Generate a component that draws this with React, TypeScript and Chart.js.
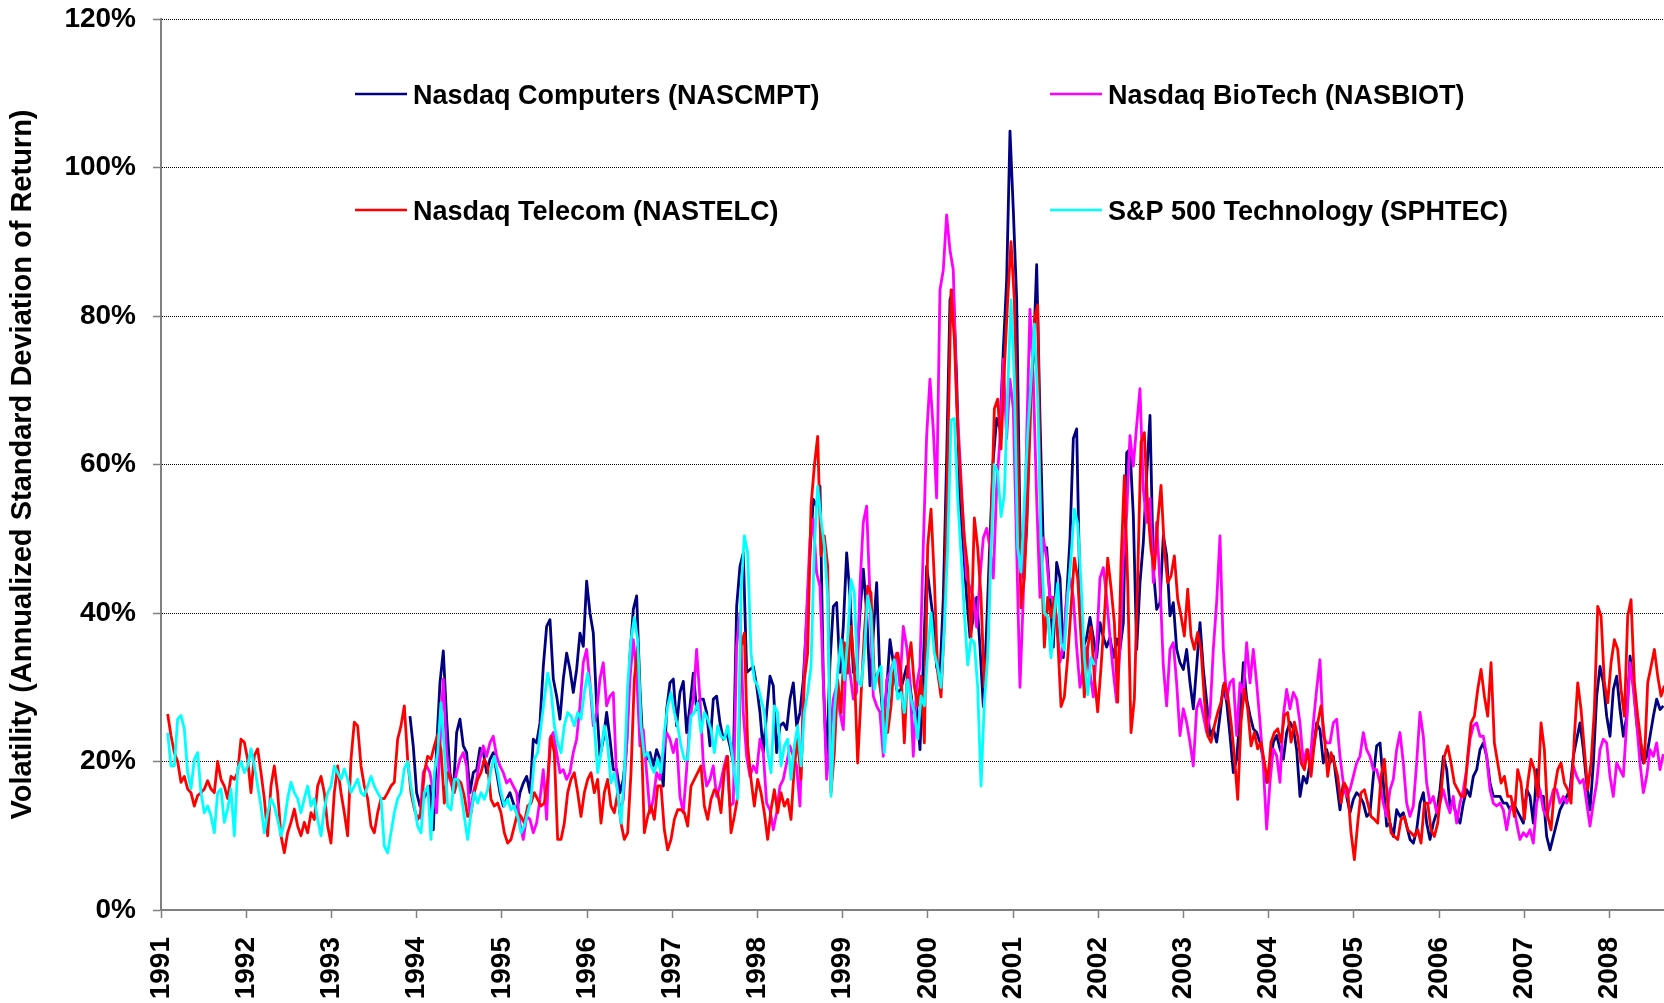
import React, { useEffect, useRef } from 'react';
import { Chart, registerables } from 'chart.js';

Chart.register(...registerables);

// ---------------- data ----------------
const SERIES_NAMES = [
  'Nasdaq Computers (NASCMPT)',
  'Nasdaq BioTech (NASBIOT)',
  'Nasdaq Telecom (NASTELC)',
  'S&P 500 Technology (SPHTEC)',
];
const SERIES_COLORS = ['#000080', '#FF00FF', '#FF0000', '#00FFFF'];

const YEAR_TICKS = [1991, 1992, 1993, 1994, 1995, 1996, 1997, 1998, 1999, 2000, 2001, 2002, 2003, 2004, 2005, 2006, 2007, 2008];
const PCT_TICKS = [0, 20, 40, 60, 80, 100, 120];

// sampling interval of the readings (about two weeks), in years
const STEP = 1 / 25.56;
const NASCMPT_START = 1993.922;
const NASBIOT_START = 1994.039;
const NASTELC_START = 1991.078;
const SPHTEC_START = 1991.078;

// volatility in percent
const nascmpt = [
  26.1, 22, 15.8, 14, 14.9, 15.8, 16.7, 10.8, 22, 30.6,
  34.9, 25.7, 18.5, 15.8, 23.9, 25.7, 22.1, 21.2, 15.8, 18.5,
  18.9, 21.8, 21.2, 18.5, 20.3, 21.2, 18.5, 15.8, 14, 14.9,
  15.8, 14.4, 13.1, 15.8, 17.1, 18, 15.8, 23, 22.5, 25.2,
  32.8, 38.2, 39.1, 31.1, 28.8, 25.7, 31.1, 34.6, 32.4, 29.3,
  32.4, 37.3, 35.5, 44.3, 40, 37.3, 27.5, 20.7, 23, 26.6,
  23, 18.9, 18.9, 15.8, 17.6, 22.1, 34.2, 40.5, 42.3, 29.7,
  21.2, 20.3, 21.2, 19.4, 21.6, 20.3, 16.7, 27, 30.6, 31.1,
  24.8,
  29.3, 30.8, 23.9, 27.5, 31.9, 27, 28.4, 28.4, 26.6, 22.1,
  28.4, 28.8, 25.2, 23, 23.9, 22.1, 19.8, 40.9, 46.3, 48.1,
  32, 32.4, 32.8, 30.2, 26.6, 21.2, 26.6, 31.5, 30.2, 21.2,
  24.8, 25.2, 24.3, 28.4, 30.6, 24.8, 26.6, 31, 39.1, 48.1,
  55.3, 54.4, 57.1, 31, 19.8, 33.3, 40.9, 41.4, 32, 38.2,
  48.1, 42.3, 32, 32.8, 40, 45.9, 40, 30.2, 37.3, 44.1,
  31, 25.2, 29.7, 36.4, 33.3, 29.7, 29.3, 31, 32.8, 30.2,
  26.6, 27.5, 21.6, 33.3, 46.3, 42.7, 39.1,
  32.7, 31.4, 42.1, 60.8, 82.2, 83.5, 71.5, 54.1, 48.8, 42.1,
  36.7, 39.4, 42.1, 35.4, 27.4, 38.1, 50.1, 60.8, 66.2, 64.8,
  75.5, 84.9, 104.9, 94.2, 82.2, 51.4, 44.7, 51.4, 68.8, 74.2,
  86.9, 66.2, 48.8, 48.8, 42.1, 35.4, 46.8, 44.7, 34, 42.1,
  50.1, 63.5, 64.8, 42.1, 35.4, 36.7, 39.4, 36.7, 34, 38.7,
  36.7, 35.4, 36.7, 34,
  36.5, 35.1, 38.7, 61.6, 62.1, 53.1, 35.1, 44.1, 49.5, 58.5,
  66.6, 45.9, 40.5, 41.4, 50.4, 47.7, 39.6, 41.4, 35.1, 33.3,
  32.4, 35.1, 30.6, 27.1, 32.9, 38.7, 32.4, 28, 23.5, 24.4,
  22.6, 26.2, 30.2, 28, 23.5, 18.5, 20.3, 26.2, 33.3, 28.4,
  26.2, 24.4, 23.9, 22.6, 20.3, 17.2, 19.4, 22.6, 23.5, 21.7,
  20.3, 23.9, 25.3, 24.4,
  21.6, 15.3, 18, 17.1, 19.8, 21.6, 25.2, 24.3, 19.8, 21.6,
  19.8, 20.7, 17.1, 13.5, 17.1, 15.3, 13.1, 14.9, 15.8, 15.3,
  14.4, 12.6, 13.1, 18, 22.1, 22.5, 17.1, 11.3, 11.7, 9.9,
  13.5, 12.6, 13.1, 11.3, 9.5, 9, 10.8, 14.4, 15.8, 11.7,
  9.5, 11.7, 13.1, 16.2, 20.7, 18.9, 14, 14.4, 12.6, 11.7,
  14.4, 16.2, 15.3, 18, 18.9, 21.6, 22.5, 20.7, 17.1, 15.3,
  15.3,
  15.3, 14.4, 14.4, 13.5, 14.4, 13.5, 12.6, 11.7, 16.2, 15.3,
  11.7, 18.9, 15.3, 15.3, 9.9, 8.1, 9.9, 11.7, 13.5, 14.4,
  15.3, 16.2, 20.7, 23, 25.2, 21.6, 17.1, 13.5, 19.8, 28.8,
  32.8, 30.6, 26.1, 23.4, 29.7, 31.5, 27, 23.4, 26.1, 34.2,
  30.6, 25.2, 21.6, 19.8, 20.7, 23.4, 26.1, 28.4, 27, 27.5,
];

const nasbiot = [
  12.2, 18.5, 19.4, 18.5, 15.8, 13.1, 22.1, 31.1, 21.2, 17.6,
  16.2, 18.5, 20.3, 21.2, 19.4, 12.6, 15.8, 17.6, 20.3, 22.1,
  20.7, 22.5, 23.4, 20.7, 19.4, 18.5, 17.1, 17.6, 16.7, 15.8,
  11.7, 9.5, 12.6, 12.2, 10.4, 11.7, 14.9, 18.9, 12.2, 23,
  23.9, 21.2, 18.5, 18.9, 17.6, 18.5, 21.2, 23, 27.5, 33.3,
  35.1, 30.6, 24.8, 26.6, 31.1, 33.3, 27.5, 28.8, 29.3, 17.6,
  13.1, 14.9, 22.1, 31.1, 36.4, 32, 22.1, 24.3, 18.5, 13.1,
  14.9, 18.5, 17.6, 21.2, 23.9, 23, 21.2, 23,
  15.3, 13.1, 18.9, 25.7, 28.4, 35.1, 28.4, 19.8, 16.7, 17.6,
  19.4, 15.3, 16.7, 18.9, 20.7, 14, 14.4, 35.5, 40, 26.6,
  20.7, 18, 19.4, 18.5, 23, 21.2, 14.4, 13.5, 10.8, 13.1,
  16.7, 17.6, 19.8, 22.1, 20.7, 19.4, 14, 28.8, 40, 49.9,
  52.6, 45.4, 43.6, 31, 17.6, 23, 28.4, 30.2, 26.6, 24.3,
  35.5, 32, 28.4, 29.3, 43.6, 52.2, 54.4, 42.3, 28.8, 27.5,
  26.6, 20.7, 31, 32, 33.3, 34.6, 30.2, 38.2, 35.5, 31,
  20.7, 30.2, 32.8, 49, 63.8, 71.5, 64.7,
  55.5, 83.5, 86.2, 93.6, 88.9, 86.2, 68.8, 60.8, 52.1, 44.7,
  43.4, 42.1, 38.1, 44.7, 50.1, 51.4, 48.8, 44.7, 56.8, 63.5,
  74.2, 63.5, 71.5, 67.5, 48.8, 30, 42.1, 63.5, 80.9, 71.5,
  55.5, 42.1, 50.1, 47.4, 42.1, 42.1, 39.4, 33.4, 35.4, 42.1,
  44.7, 42.1, 35.4, 30, 32.7, 35.4, 32, 28.7, 35.4, 44.7,
  46.1, 42.1, 36.7, 32,
  28, 35.1, 47.7, 53.1, 63.9, 59.8, 65.2, 70.2, 56.7, 52.2,
  55.4, 44.1, 52.2, 44.1, 32.9, 27.5, 35.1, 36, 30.6, 23.5,
  27.1, 25.3, 22.6, 19.4, 27.1, 28.4, 26.2, 23.9, 26.2, 35.1,
  41.4, 50.4, 35.1, 28.4, 30.6, 31.1, 23.5, 30.6, 28.9, 36,
  30.6, 35.1, 30.6, 25.3, 19.4, 10.9, 17.2, 21.7, 20.8, 17.2,
  26.2, 29.7, 27.1, 29.3,
  28.4, 25.2, 19.8, 21.6, 19.8, 25.2, 29.7, 33.7, 23.4, 22.5,
  22.5, 25.2, 25.7, 20.7, 17.1, 15.3, 16.2, 18, 19.8, 20.7,
  23.9, 21.6, 20.7, 18.9, 18.9, 17.1, 14.4, 12.6, 16.2, 17.6,
  21.6, 23.9, 19.8, 14.4, 12.6, 14, 19.8, 26.6, 23.4, 17.1,
  14.4, 15.3, 13.1, 14.4, 16.2, 14.4, 13.1, 15.3, 11.7, 14.4,
  16.2, 18.9, 23, 24.8, 25.2, 23.4, 23.4, 20.7, 16.2, 14.4,
  14,
  14.4, 13.5, 10.8, 13.5, 14.4, 11.7, 9.5, 10.4, 9.9, 10.8,
  9, 14.4, 16.2, 13.5, 12.6, 14.4, 16.2, 16.2, 14.4, 15.3,
  14.4, 15.3, 19.4, 18, 17.1, 17.6, 14.4, 11.3, 14.4, 17.1,
  21.6, 23, 22.5, 18, 15.3, 19.8, 18.9, 18, 25.2, 33.3,
  29.7, 25.2, 19.8, 15.8, 18, 21.6, 20.7, 22.5, 18.9, 21,
];

const nastelc = [
  26.4, 23.5, 21.2, 20, 17.2, 18, 16.3, 15.8, 14, 15.4,
  15.8, 16.3, 17.4, 16.3, 15.8, 20, 17.6, 16.7, 15, 18,
  17.6, 18.5, 23, 22.6, 20.3, 15.8, 20.8, 21.7, 18.5, 15,
  10, 16.7, 19.4, 15.8, 10, 7.7, 10.4, 11.8, 13.6, 11.3,
  10, 11.8, 10.4, 13.1, 12.2, 16.7, 18, 15.8, 11.3, 9,
  15.8, 19.4, 15.8, 13.1, 10, 20.3, 25.3, 24.8, 19.4, 16.7,
  15, 11.3, 10.4, 13.1, 15, 15, 15.8, 16.7, 17.2, 23,
  24.8, 27.5, 20.3, 15.8, 13.6, 12.2, 13.1,
  18.5, 20.7, 20.3, 22.1, 23.6, 21.6, 14.4, 18.5, 17.6, 15.8,
  17.6, 17.1, 15.3, 12.6, 13.1, 15.8, 17.6, 18.5, 20.3, 19.4,
  14.9, 14, 14.4, 13.1, 10.4, 9, 9.5, 11.3, 13.1, 12.6,
  11.7, 14, 14.4, 15.8, 14.9, 14, 14.4, 17.6, 23.4, 21.2,
  9.5, 9.5, 11.7, 15.8, 17.6, 18.5, 15.8, 12.6, 15.8, 17.6,
  18.5, 15.8, 17.6, 11.7, 15.8, 17.6, 14, 13.1, 15.8, 11.7,
  9.5, 10.4, 18.5, 31.1, 35.5, 25.2, 10.4, 12.6, 14, 12.2,
  16.7, 16.7, 10.8, 8.1, 9.5, 12.2, 13.5,
  13.5, 13.1, 11.3, 16.7, 17.6, 18.5, 19.4, 14, 12.2, 14.9,
  16.2, 15.8, 13.1, 18.9, 20.7, 10.4, 12.6, 15.3, 35.5, 37.3,
  22.1, 17.6, 14, 17.6, 15.8, 13.1, 9.5, 13.5, 16.2, 13.1,
  15.8, 14, 14.9, 12.2, 19.4, 23, 17.6, 31, 34.6, 54.4,
  59.8, 63.8, 47.7, 50.4, 46.3, 15.8, 21.2, 31, 26.6, 36,
  31.9, 38.2, 32.4, 19.8, 28.8, 37.3, 43.6, 42.7, 31, 31.9,
  29.3, 26.6, 23.9, 27.5, 33.7, 34.6, 31.9, 22.5, 32.8, 36,
  30.2, 27.5, 31.5, 22.5, 49, 54, 44.5,
  32, 28.7, 38.7, 60.8, 83.5, 76.9, 64.8, 56.8, 50.1, 46.1,
  36.7, 52.8, 48.8, 42.1, 30, 35.4, 51.4, 67.5, 68.8, 62.1,
  72.8, 82.2, 90, 82.2, 62.1, 40.7, 44.7, 55.5, 68.8, 79.5,
  81.5, 48.8, 35.4, 42.1, 39.4, 42.1, 36.7, 27.4, 28.7, 34,
  40.7, 47.4, 44.7, 36.7, 28.7, 35.4, 38.1, 31.4, 26.7, 32.7,
  39.4, 47.4, 43.4, 38.7,
  28, 46.8, 58.5, 44.1, 23.9, 28.4, 45, 63, 64.3, 54,
  48.6, 45.9, 52.2, 57.2, 48.6, 44.1, 45, 47.7, 41.9, 39.6,
  36.9, 43.2, 36.9, 35.1, 37.4, 35.1, 28.4, 23.5, 22.6, 24.8,
  26.6, 28, 30.6, 28.9, 25.3, 20.8, 14.9, 25.3, 29.7, 27.1,
  22.1, 23.9, 21.7, 22.6, 19.9, 17.2, 22.6, 23.9, 24.4, 22.6,
  26.2, 26.6, 22.6, 25.3,
  23.4, 19.8, 18.9, 21.6, 18, 22.5, 25.2, 27.5, 23.4, 18,
  21.2, 19.8, 18, 14.4, 17.1, 16.2, 10.4, 6.8, 11.7, 15.8,
  16.2, 14.4, 12.6, 12.2, 11.7, 18, 20.3, 14.4, 10.4, 9.9,
  9.5, 12.2, 12.6, 10.8, 10.4, 9.9, 10.8, 9, 14.4, 14.4,
  10.8, 9.9, 11.7, 15.8, 20.7, 22.1, 19.8, 17.1, 16.2, 15.3,
  15.3, 20.7, 25.2, 26.1, 29.7, 32.4, 28.8, 26.1, 33.3, 22.5,
  19.8,
  17.1, 18, 15.3, 15.3, 12.6, 18.9, 17.1, 12.2, 17.1, 20.3,
  18.9, 15.3, 25.2, 21.6, 12.6, 10.8, 16.2, 18.9, 19.8, 17.1,
  16.2, 14.4, 23.4, 30.6, 27, 21.6, 16.2, 19.8, 27, 40.9,
  39.6, 30.6, 27.9, 33.3, 36.4, 35.1, 29.7, 26.1, 39.6, 41.8,
  30.6, 26.1, 22.5, 19.8, 30.6, 32.8, 35.1, 31.5, 28.8, 30.2,
];

const sphtec = [
  23.9, 19.4, 19.4, 25.7, 26.2, 24.4, 18.5, 16.3, 20.3, 21.2,
  15.8, 13.1, 14, 12.7, 10.4, 15.8, 16.3, 11.8, 13.6, 16.3,
  10, 19, 20, 18.5, 19.4, 21.7, 19.4, 16.7, 14, 10.4,
  13.1, 15, 14, 12.2, 10, 11.8, 15, 17.2, 15.8, 15,
  13.1, 15, 16.7, 14, 15, 12.2, 10, 13.6, 15.8, 16.7,
  19.4, 18.5, 17.6, 19, 17.6, 15.8, 16.7, 17.6, 15.8, 15.4,
  16.7, 18, 16.7, 15.8, 15, 8.6, 7.7, 10.4, 13.1, 15,
  15.8, 19, 20, 16.7, 14, 11.3, 10.4,
  15.8, 16.7, 9.5, 18.5, 21.2, 27.9, 21.6, 14, 13.5, 17.6,
  17.6, 15.8, 12.6, 9.5, 13.1, 15.8, 14.4, 15.8, 14.9, 16.2,
  18.9, 20.7, 18.5, 15.8, 14, 14.9, 13.5, 14, 12.6, 10.4,
  11.3, 13.1, 14.9, 20.3, 21.2, 24.8, 28.4, 31.9, 29.7, 24.8,
  22.5, 21.2, 24.8, 26.6, 26.1, 24.8, 26.6, 25.7, 29.3, 31.9,
  29.3, 24.8, 18.5, 21.2, 24.8, 22.1, 17.1, 18.5, 15.8, 11.7,
  18.5, 30.2, 36.4, 39.4, 36.4, 24.8, 20.7, 21.2, 19.4, 18.5,
  20.3, 18.5, 23.9, 27.5, 29.3, 26.6, 24.8,
  22.1, 20.3, 20.3, 26.1, 26.6, 27.9, 23.9, 26.6, 25.7, 24.3,
  21.2, 24.8, 23.4, 23, 24.8, 22.1, 18.5, 14.9, 42.7, 50.4,
  48.1, 34.6, 31, 30.2, 28.4, 26.6, 21.2, 18.5, 27.5, 26.6,
  19.4, 22.1, 23, 17.6, 22.1, 24.8, 19.4, 26.6, 29.3, 32.8,
  49, 57.1, 52.6, 49, 42.3, 15.3, 26.6, 32, 36.4, 31,
  36.4, 44.5, 42.7, 31, 30.2, 34.6, 42.3, 40, 29.7, 32,
  32.8, 21.2, 26.6, 32, 33.7, 28.4, 29.3, 26.6, 31, 28.4,
  26.6, 23, 28.8, 27.5, 34.6, 40, 34.6,
  32.7, 30, 38.1, 48.8, 66, 66.2, 55.5, 48, 40, 33,
  36.5, 36, 30, 16.7, 28, 34, 48, 60, 59, 53,
  56, 70, 82.2, 71.5, 48.8, 45.5, 55, 64, 71, 78.9,
  68.8, 50, 40, 39.5, 34, 40, 44, 36, 35, 42,
  47.5, 54, 52, 44, 34, 29, 34, 33,
];

// ---------------- chart ----------------
const FONT = '"Liberation Sans", Arial, Helvetica, sans-serif';
const X_MIN = 1991;
const X_MAX = 2008.64;

const toPoints = (start: number, vals: number[]) =>
  vals.map((v, i) => ({ x: start + i * STEP, y: v }));

const LEGEND_SLOTS = [
  { series: 0, x: 355, y: 94 },
  { series: 1, x: 1050, y: 94 },
  { series: 2, x: 355, y: 210 },
  { series: 3, x: 1050, y: 210 },
];

const legendPlugin = {
  id: 'gridLegend',
  afterDraw(chart: any) {
    const ctx = chart.ctx;
    ctx.save();
    ctx.font = 'bold 27px ' + FONT;
    ctx.textBaseline = 'alphabetic';
    ctx.textAlign = 'left';
    LEGEND_SLOTS.forEach((slot) => {
      ctx.strokeStyle = SERIES_COLORS[slot.series];
      ctx.lineWidth = 2.5;
      ctx.beginPath();
      ctx.moveTo(slot.x, slot.y);
      ctx.lineTo(slot.x + 52, slot.y);
      ctx.stroke();
      ctx.fillStyle = '#000';
      ctx.fillText(SERIES_NAMES[slot.series], slot.x + 58, slot.y + 10);
    });
    ctx.restore();
  },
};

export default function App() {
  const ref = useRef<HTMLCanvasElement | null>(null);

  useEffect(() => {
    if (!ref.current) return;
    const seriesData = [
      toPoints(NASCMPT_START, nascmpt),
      toPoints(NASBIOT_START, nasbiot),
      toPoints(NASTELC_START, nastelc),
      toPoints(SPHTEC_START, sphtec),
    ];
    const drawOrder = [3, 2, 1, 0];
    const chart = new Chart(ref.current, {
      type: 'line',
      data: {
        datasets: seriesData.map((d, i) => ({
          label: SERIES_NAMES[i],
          data: d,
          borderColor: SERIES_COLORS[i],
          backgroundColor: SERIES_COLORS[i],
          borderWidth: 2.8,
          pointRadius: 0,
          tension: 0,
          fill: false,
          borderJoinStyle: 'round',
          order: drawOrder[i],
        })),
      },
      options: {
        responsive: false,
        animation: false,
        devicePixelRatio: 1,
        layout: { padding: { top: 19, left: 0, right: 0, bottom: 0 } },
        plugins: {
          legend: { display: false },
          tooltip: { enabled: false },
        },
        scales: {
          x: {
            type: 'linear',
            min: X_MIN,
            max: X_MAX,
            afterFit: (s: any) => {
              s.height = 93;
              s.paddingLeft = 0;
              s.paddingRight = 0;
            },
            afterBuildTicks: (s: any) => { s.ticks = YEAR_TICKS.map((v) => ({ value: v })); },
            grid: {
              drawOnChartArea: false,
              drawTicks: true,
              tickLength: 8,
              tickColor: '#808080',
              tickWidth: 1.5,
            },
            border: { display: true, color: '#808080', width: 2 },
            ticks: {
              autoSkip: false,
              minRotation: 90,
              maxRotation: 90,
              padding: 19,
              color: '#000',
              font: { family: FONT, size: 28, weight: 'bold' },
              callback: (v: any) => String(v),
            },
          },
          y: {
            type: 'linear',
            min: 0,
            max: 120,
            afterFit: (s: any) => {
              s.width = 161;
              s.paddingTop = 0;
              s.paddingBottom = 0;
            },
            afterBuildTicks: (s: any) => { s.ticks = PCT_TICKS.map((v) => ({ value: v })); },
            grid: {
              color: (c: any) => (c.tick && c.tick.value === 0 ? 'rgba(0,0,0,0)' : '#000'),
              lineWidth: 1,
              drawTicks: true,
              tickLength: 8,
              tickColor: '#808080',
              tickWidth: 1.5,
            },
            border: { display: true, color: '#808080', width: 2, dash: [1, 1] },
            ticks: {
              padding: 17,
              color: '#000',
              font: { family: FONT, size: 28, weight: 'bold' },
              callback: (v: any) => v + '%',
            },
            title: {
              display: true,
              text: 'Volatility (Annualized Standard Deviation of Return)',
              color: '#000',
              font: { family: FONT, size: 29, weight: 'bold' },
              padding: { top: 6, bottom: 0 },
            },
          },
        },
      },
      plugins: [legendPlugin],
    } as any);
    return () => chart.destroy();
  }, []);

  return (
    <div style={{ position: 'fixed', left: 0, top: 0, width: 1664, height: 1003, background: '#fff' }}>
      <canvas ref={ref} width={1664} height={1003} style={{ display: 'block' }} />
    </div>
  );
}
